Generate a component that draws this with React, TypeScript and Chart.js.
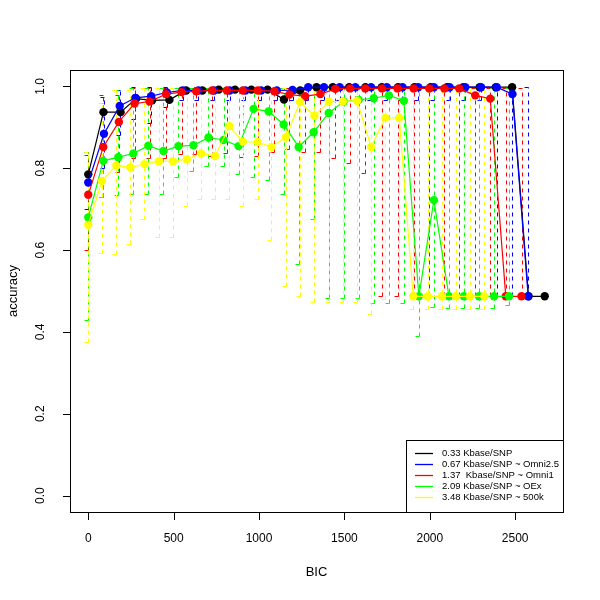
import React, { useEffect, useRef } from "react";
import { Chart, registerables } from "chart.js";

Chart.register(...registerables);

// ---------- data ----------
const xTickValues = [0, 500, 1000, 1500, 2000, 2500];
const yTickValues = [0, 0.2, 0.4, 0.6, 0.8, 1.0];
const yTickLabels = ["0.0", "0.2", "0.4", "0.6", "0.8", "1.0"];

const seriesLabels = [
  "0.33 Kbase/SNP",
  "0.67 Kbase/SNP ~ Omni2.5",
  "1.37  Kbase/SNP ~ Omni1",
  "2.09 Kbase/SNP ~ OEx",
  "3.48 Kbase/SNP ~ 500k",
];
const seriesColors = ["#000000", "#0000FF", "#FF0000", "#00FF00", "#FFFF00"];

const blackX = [0, 89, 189, 280, 374, 475, 573, 668, 764, 859, 955, 1050, 1146, 1241, 1337, 1432, 1528, 1623, 1719, 1814, 1910, 2005, 2101, 2196, 2292, 2387, 2482, 2578, 2673];
const blackY = [0.785, 0.937, 0.937, 0.970, 0.966, 0.967, 0.990, 0.990, 0.992, 0.992, 0.992, 0.992, 0.968, 0.990, 0.998, 0.998, 0.998, 0.998, 0.998, 0.998, 0.998, 0.998, 0.998, 0.998, 0.998, 0.998, 0.998, 0.487, 0.487];

const blueX = [0, 92, 184, 276, 368, 460, 552, 644, 736, 828, 920, 1012, 1104, 1196, 1288, 1380, 1472, 1564, 1656, 1748, 1840, 1932, 2024, 2116, 2208, 2300, 2392, 2484, 2576];
const blueY = [0.765, 0.884, 0.952, 0.972, 0.976, 0.985, 0.990, 0.990, 0.990, 0.990, 0.990, 0.990, 0.990, 0.991, 0.998, 0.998, 0.998, 0.998, 0.998, 0.998, 0.998, 0.998, 0.998, 0.998, 0.998, 0.998, 0.998, 0.981, 0.487];
const blueLow = [0.70, 0.80, 0.88, 0.92, 0.91, 0.95, 0.967, 0.967, 0.967, 0.967, 0.967, 0.967, 0.967, 0.967, 0.967, 0.967, 0.967, 0.967, 0.967, 0.967, 0.967, 0.967, 0.967, 0.967, 0.967, 0.967, 0.487, 0.487, 0.487];
const blueHigh = [0.84, 0.975, 0.99, 0.998, 0.998, 0.998, 0.998, 0.998, 0.998, 0.998, 0.998, 0.998, 0.998, 0.998, 0.998, 0.998, 0.998, 0.998, 0.998, 0.998, 0.998, 0.998, 0.998, 0.998, 0.998, 0.998, 0.998, 0.998, 0.998];

const redX = [0, 88, 179, 271, 359, 456, 546, 632, 725, 811, 905, 992, 1090, 1178, 1270, 1359, 1447, 1533, 1622, 1720, 1811, 1905, 1997, 2085, 2172, 2266, 2354, 2445, 2537];
const redY = [0.735, 0.852, 0.913, 0.958, 0.963, 0.981, 0.986, 0.988, 0.990, 0.990, 0.990, 0.990, 0.988, 0.980, 0.976, 0.981, 0.994, 0.995, 0.995, 0.995, 0.995, 0.995, 0.995, 0.995, 0.995, 0.978, 0.970, 0.487, 0.487];
const redLow = [0.60, 0.73, 0.79, 0.825, 0.825, 0.826, 0.834, 0.834, 0.830, 0.838, 0.827, 0.830, 0.840, 0.846, 0.840, 0.840, 0.826, 0.813, 0.789, 0.487, 0.487, 0.487, 0.487, 0.487, 0.487, 0.487, 0.487, 0.487, 0.487];
const redHigh = [0.833, 0.979, 0.980, 0.997, 0.997, 0.997, 0.997, 0.997, 0.997, 0.997, 0.997, 0.997, 0.997, 0.997, 0.997, 0.997, 0.997, 0.997, 0.997, 0.997, 0.997, 0.997, 0.997, 0.997, 0.997, 0.997, 0.997, 0.997, 0.997];

const greenX = [0, 88, 176, 264, 352, 440, 528, 616, 704, 792, 880, 968, 1056, 1144, 1232, 1320, 1408, 1496, 1584, 1672, 1760, 1848, 1936, 2024, 2112, 2200, 2288, 2376, 2464];
const greenY = [0.680, 0.818, 0.827, 0.836, 0.855, 0.842, 0.854, 0.856, 0.875, 0.869, 0.854, 0.945, 0.939, 0.907, 0.852, 0.888, 0.935, 0.963, 0.967, 0.971, 0.978, 0.965, 0.487, 0.722, 0.487, 0.487, 0.487, 0.487, 0.487];
const greenLow = [0.43, 0.73, 0.735, 0.737, 0.737, 0.737, 0.779, 0.793, 0.805, 0.805, 0.787, 0.779, 0.771, 0.738, 0.566, 0.676, 0.483, 0.483, 0.483, 0.47, 0.47, 0.47, 0.39, 0.46, 0.458, 0.458, 0.458, 0.458, 0.465];
const greenHigh = [0.84, 0.96, 0.99, 0.995, 0.995, 0.995, 0.995, 0.995, 0.995, 0.995, 0.995, 0.995, 0.995, 0.995, 0.995, 0.995, 0.995, 0.995, 0.995, 0.995, 0.995, 0.995, 0.995, 0.995, 0.995, 0.995, 0.995, 0.995, 0.995];

const yellowX = [0, 80, 164, 246, 329, 413, 495, 577, 661, 743, 827, 905, 992, 1072, 1158, 1240, 1324, 1408, 1490, 1574, 1656, 1740, 1821, 1903, 1987, 2071, 2153, 2235, 2319];
const yellowY = [0.662, 0.769, 0.807, 0.802, 0.810, 0.817, 0.817, 0.822, 0.836, 0.830, 0.903, 0.865, 0.864, 0.852, 0.876, 0.962, 0.928, 0.963, 0.963, 0.965, 0.852, 0.923, 0.923, 0.487, 0.487, 0.487, 0.487, 0.487, 0.487];
const yellowLow = [0.375, 0.594, 0.590, 0.615, 0.677, 0.631, 0.633, 0.708, 0.726, 0.726, 0.726, 0.708, 0.726, 0.625, 0.513, 0.489, 0.473, 0.473, 0.473, 0.473, 0.444, 0.48, 0.48, 0.456, 0.456, 0.456, 0.456, 0.456, 0.456];
const yellowHigh = [0.84, 0.96, 0.99, 0.992, 0.995, 0.995, 0.995, 0.995, 0.995, 0.995, 0.995, 0.995, 0.995, 0.995, 0.995, 0.995, 0.995, 0.995, 0.995, 0.995, 0.995, 0.995, 0.995, 0.995, 0.995, 0.995, 0.995, 0.995, 0.995];

const FONT = '"Liberation Sans", Arial, Helvetica, sans-serif';

const seriesX = [blackX, blueX, redX, greenX, yellowX];
const seriesY = [blackY, blueY, redY, greenY, yellowY];
const errSets = [
  { x: blueX, low: blueLow, high: blueHigh, color: seriesColors[1] },
  { x: redX, low: redLow, high: redHigh, color: seriesColors[2] },
  { x: greenX, low: greenLow, high: greenHigh, color: seriesColors[3] },
  { x: yellowX, low: yellowLow, high: yellowHigh, color: seriesColors[4] },
];

const errorBarPlugin = {
  id: "errorBars",
  beforeDatasetsDraw(chart: any) {
    const { ctx, chartArea } = chart;
    const xs = chart.scales.x;
    const ys = chart.scales.y;
    ctx.save();
    ctx.beginPath();
    ctx.rect(chartArea.left, chartArea.top, chartArea.right - chartArea.left, chartArea.bottom - chartArea.top);
    ctx.clip();
    ctx.lineWidth = 1;
    ctx.setLineDash([4, 4]);
    for (const s of errSets) {
      ctx.strokeStyle = s.color;
      for (let i = 0; i < s.x.length; i++) {
        const px = Math.round(xs.getPixelForValue(s.x[i])) + 0.5;
        const yl = Math.round(ys.getPixelForValue(s.low[i])) + 0.5;
        const yh = Math.round(ys.getPixelForValue(s.high[i])) + 0.5;
        ctx.beginPath();
        ctx.moveTo(px, yl);
        ctx.lineTo(px, yh);
        ctx.stroke();
        ctx.beginPath();
        ctx.moveTo(px - 4, yl);
        ctx.lineTo(px + 4, yl);
        ctx.moveTo(px - 4, yh);
        ctx.lineTo(px + 4, yh);
        ctx.stroke();
      }
    }
    ctx.restore();
  },
};

const framePlugin = {
  id: "rframe",
  afterDraw(chart: any) {
    const { ctx, chartArea } = chart;
    const xs = chart.scales.x;
    const ys = chart.scales.y;
    const L = chartArea.left, R = chartArea.right, T = chartArea.top, B = chartArea.bottom;
    ctx.save();
    ctx.setLineDash([]);
    ctx.strokeStyle = "#000";
    ctx.lineWidth = 1;
    ctx.strokeRect(Math.round(L) + 0.5, Math.round(T) + 0.5, Math.round(R - L), Math.round(B - T));
    ctx.beginPath();
    for (const v of xTickValues) {
      const px = Math.round(xs.getPixelForValue(v)) + 0.5;
      ctx.moveTo(px, Math.round(B) + 0.5);
      ctx.lineTo(px, Math.round(B) + 8);
    }
    for (const v of yTickValues) {
      const py = Math.round(ys.getPixelForValue(v)) + 0.5;
      ctx.moveTo(Math.round(L) + 0.5, py);
      ctx.lineTo(Math.round(L) - 7, py);
    }
    ctx.stroke();
    ctx.fillStyle = "#000";
    ctx.font = `12px ${FONT}`;
    ctx.textAlign = "center";
    ctx.textBaseline = "middle";
    for (const v of xTickValues) {
      ctx.fillText(String(v), xs.getPixelForValue(v), 539);
    }
    yTickValues.forEach((v, i) => {
      ctx.save();
      ctx.translate(41, ys.getPixelForValue(v));
      ctx.rotate(-Math.PI / 2);
      ctx.fillText(yTickLabels[i], 0, 0);
      ctx.restore();
    });
    ctx.font = `13px ${FONT}`;
    ctx.fillText("BIC", (L + R) / 2, 572);
    ctx.save();
    ctx.translate(13, (T + B) / 2);
    ctx.rotate(-Math.PI / 2);
    ctx.fillText("accuracy", 0, 0);
    ctx.restore();
    // legend
    const lx = 406.5, ly = 440.5, lw = R - lx, lh = B - ly;
    ctx.fillStyle = "#fff";
    ctx.fillRect(lx, ly, lw, lh);
    ctx.strokeStyle = "#000";
    ctx.strokeRect(lx, ly, Math.round(lw), Math.round(lh));
    ctx.font = `9.5px ${FONT}`;
    ctx.textAlign = "left";
    seriesLabels.forEach((lab, i) => {
      const ry = 452.5 + i * 11;
      ctx.strokeStyle = seriesColors[i];
      ctx.lineWidth = 1.3;
      ctx.beginPath();
      ctx.moveTo(415, Math.round(ry) + 0.5);
      ctx.lineTo(433, Math.round(ry) + 0.5);
      ctx.stroke();
      ctx.fillStyle = "#000";
      ctx.fillText(lab, 442, ry + 0.5);
    });
    ctx.restore();
  },
};

export default function App() {
  const ref = useRef<HTMLCanvasElement | null>(null);
  useEffect(() => {
    document.body.style.margin = "0";
    const canvas = ref.current;
    if (!canvas) return;
    const datasets = seriesLabels.map((label, i) => ({
      label,
      data: seriesX[i].map((xv, j) => ({ x: xv, y: seriesY[i][j] })),
      borderColor: seriesColors[i],
      backgroundColor: seriesColors[i],
      borderWidth: 1.2,
      pointRadius: 4.2,
      pointBorderWidth: 0,
      pointBackgroundColor: seriesColors[i],
      showLine: true,
      tension: 0,
      order: 5 - i,
    }));
    const chart = new Chart(canvas, {
      type: "scatter",
      data: { datasets },
      options: {
        animation: false,
        responsive: false,
        layout: { padding: { left: 0, top: 70, right: 37, bottom: 0 } },
        plugins: { legend: { display: false }, tooltip: { enabled: false } },
        scales: {
          x: {
            type: "linear",
            min: -107,
            max: 2780,
            grid: { display: false },
            border: { display: false },
            ticks: { display: false },
            afterFit: (s: any) => { s.height = 88; },
          },
          y: {
            type: "linear",
            min: -0.04,
            max: 1.04,
            grid: { display: false },
            border: { display: false },
            ticks: { display: false },
            afterFit: (s: any) => { s.width = 70; },
          },
        },
      },
      plugins: [errorBarPlugin, framePlugin],
    });
    return () => chart.destroy();
  }, []);
  return (
    <div style={{ width: 600, height: 600, background: "#fff" }}>
      <canvas ref={ref} width={600} height={600} style={{ display: "block" }} />
    </div>
  );
}
